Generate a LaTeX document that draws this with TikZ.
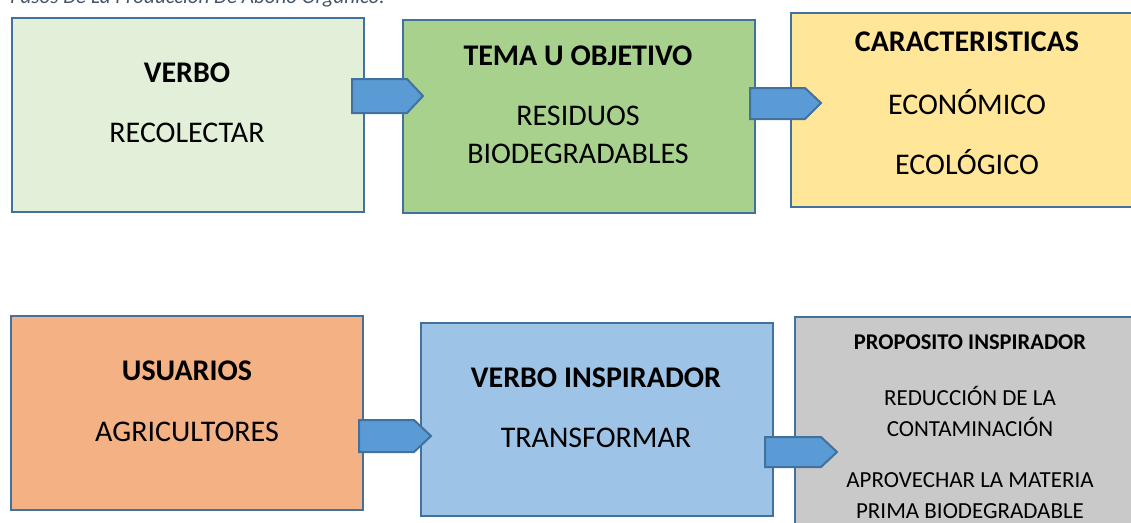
\documentclass[tikz,border=0pt]{standalone}
\usepackage{fontspec}
\setmainfont{Carlito}
\begin{document}
\begin{tikzpicture}[x=1pt,y=-1pt,
  box/.style={draw=bordc,line width=2pt,inner sep=0pt,anchor=north west},
  big/.style={font=\fontsize{30}{36}\selectfont,inner sep=0pt},
  bigb/.style={font=\fontsize{30}{36}\selectfont\bfseries,inner sep=0pt},
  small/.style={font=\fontsize{23}{27}\selectfont,inner sep=0pt},
  smallb/.style={font=\fontsize{22.5}{27}\selectfont\bfseries,inner sep=0pt},
  blockarrow/.style={fill=arrc,draw=bordc,line width=2pt,line join=miter}]
\definecolor{bordc}{HTML}{41719C}
\definecolor{arrc}{HTML}{5B9BD5}
\definecolor{c1}{HTML}{E2F0D9}
\definecolor{c2}{HTML}{A9D18E}
\definecolor{c3}{HTML}{FFE699}
\definecolor{c4}{HTML}{F4B183}
\definecolor{c5}{HTML}{9DC3E6}
\definecolor{c6}{HTML}{C9C9C9}
\definecolor{capc}{HTML}{44546A}
\useasboundingbox (0,0) rectangle (1131,522);
\clip (0,0) rectangle (1131,522);
% caption (cut off at the top, as in the reference)
\node[anchor=base west,inner sep=0pt,text=capc,font=\fontsize{21}{25}\selectfont\itshape] (cap) at (10,4) {Pasos De La Producción De Abono Orgánico.};
% boxes
\node[box,fill=c1,minimum width=352pt,minimum height=194pt] (b1) at (11,17) {};
\node[box,fill=c2,minimum width=352pt,minimum height=193pt] (b2) at (402,19) {};
\node[box,fill=c3,minimum width=360pt,minimum height=194pt] (b3) at (790,12) {};
\node[box,fill=c4,minimum width=352pt,minimum height=194pt] (b4) at (10,315) {};
\node[box,fill=c5,minimum width=352pt,minimum height=193pt] (b5) at (420,322) {};
\node[box,fill=c6,minimum width=360pt,minimum height=230pt] (b6) at (794,316) {};
% arrows
\draw[blockarrow] (352,79) -- (407,79) -- (423,96) -- (407,113) -- (352,113) -- cycle;
\draw[blockarrow] (750,88) -- (805,88) -- (821,103) -- (805,119) -- (750,119) -- cycle;
\draw[blockarrow] (359,420) -- (414,420) -- (431,436) -- (414,452) -- (359,452) -- cycle;
\draw[blockarrow] (765,437) -- (821,437) -- (837,452) -- (821,467) -- (765,467) -- cycle;
% texts
\node[bigb] (t1a) at (187,73) {VERBO};
\node[big] (t1b) at (187,133) {RECOLECTAR};
\node[bigb] (t2a) at (578,56) {TEMA U OBJETIVO};
\node[big] (t2b) at (578,116) {RESIDUOS};
\node[big] (t2c) at (578,154) {BIODEGRADABLES};
\node[bigb] (t3a) at (967,42) {CARACTERISTICAS};
\node[big] (t3b) at (967,102) {ECONÓMICO};
\node[big] (t3c) at (967,162) {ECOLÓGICO};
\node[bigb] (t4a) at (187,371) {USUARIOS};
\node[big] (t4b) at (187,432) {AGRICULTORES};
\node[bigb] (t5a) at (596,378) {VERBO INSPIRADOR};
\node[big] (t5b) at (596,438) {TRANSFORMAR};
\node[smallb] (t6a) at (970,342) {PROPOSITO INSPIRADOR};
\node[small] (t6b) at (970,396) {REDUCCIÓN DE LA};
\node[small] (t6c) at (970,427) {CONTAMINACIÓN};
\node[small] (t6d) at (970,480) {APROVECHAR LA MATERIA};
\node[small] (t6e) at (970,511) {PRIMA BIODEGRADABLE};
\end{tikzpicture}
\end{document}
